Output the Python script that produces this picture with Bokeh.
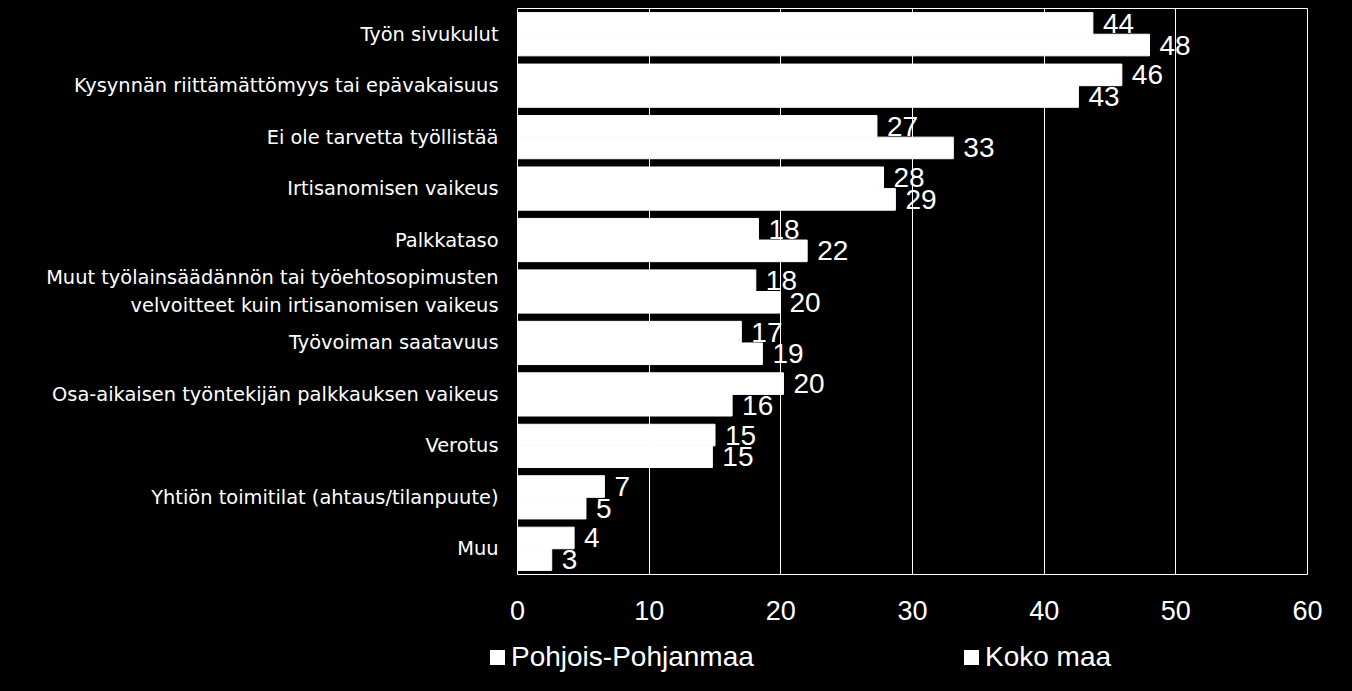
from bokeh.plotting import figure
from bokeh.layouts import column
from bokeh.models import ColumnDataSource, FactorRange, Range1d, FixedTicker, Div
from bokeh.transform import dodge
from bokeh.core.properties import value
from bokeh.embed import file_html
from bokeh.resources import INLINE

categories = [
    "Työn sivukulut",
    "Kysynnän riittämättömyys tai epävakaisuus",
    "Ei ole tarvetta työllistää",
    "Irtisanomisen vaikeus",
    "Palkkataso",
    "Muut työlainsäädännön tai työehtosopimusten\nvelvoitteet kuin irtisanomisen vaikeus",
    "Työvoiman saatavuus",
    "Osa-aikaisen työntekijän palkkauksen vaikeus",
    "Verotus",
    "Yhtiön toimitilat (ahtaus/tilanpuute)",
    "Muu",
]
pohjois = [43.7, 45.9, 27.3, 27.8, 18.3, 18.1, 17.0, 20.2, 15.0, 6.6, 4.3]
koko = [48.0, 42.6, 33.1, 28.7, 22.0, 19.9, 18.6, 16.3, 14.8, 5.2, 2.6]
series_names = ["Pohjois-Pohjanmaa", "Koko maa"]
series_colors = ["white", "white"]
x_ticks = [0, 10, 20, 30, 40, 50, 60]

src = ColumnDataSource(dict(
    cat=categories,
    p=pohjois,
    k=koko,
    pl=[str(int(round(v))) for v in pohjois],
    kl=[str(int(round(v))) for v in koko],
))

p = figure(
    y_range=FactorRange(*categories[::-1]),
    x_range=Range1d(0, 60),
    width=1352, frame_width=790, frame_height=566,
    min_border_left=517, min_border_top=8, min_border_right=45, min_border_bottom=60,
    output_backend="svg", toolbar_location=None,
    background_fill_color="black", border_fill_color="black",
    outline_line_color="white", outline_line_width=1,
)

off = 0.21
bh = 0.42
p.hbar(y=dodge("cat", off, range=p.y_range), right="p", left=0, height=bh,
       source=src, fill_color=series_colors[0], line_color=series_colors[0], line_width=1)
p.hbar(y=dodge("cat", -off, range=p.y_range), right="k", left=0, height=bh,
       source=src, fill_color=series_colors[1], line_color=series_colors[1], line_width=1)

lab_font = value("Liberation Sans")
p.text(x="p", y=dodge("cat", off, range=p.y_range), text="pl", source=src,
       x_offset=10, text_baseline="middle", text_align="left",
       text_color="white", text_font=lab_font, text_font_size="28px")
p.text(x="k", y=dodge("cat", -off, range=p.y_range), text="kl", source=src,
       x_offset=10, text_baseline="middle", text_align="left",
       text_color="white", text_font=lab_font, text_font_size="28px")

p.xgrid.grid_line_color = "white"
p.xgrid.grid_line_width = 1
p.xgrid.ticker = FixedTicker(ticks=x_ticks)
p.ygrid.grid_line_color = None

p.xaxis.ticker = FixedTicker(ticks=x_ticks)
p.xaxis.axis_line_color = None
p.xaxis.major_tick_line_color = None
p.xaxis.minor_tick_line_color = None
p.xaxis.major_label_text_color = "white"
p.xaxis.major_label_text_font = "Liberation Sans"
p.xaxis.major_label_text_font_size = "27px"
p.xaxis.major_label_standoff = 20

p.yaxis.axis_line_color = None
p.yaxis.major_tick_line_color = None
p.yaxis.minor_tick_line_color = None
p.yaxis.major_label_text_color = "white"
p.yaxis.major_label_text_font = "DejaVu Sans"
p.yaxis.major_label_text_font_size = "19.4px"
p.yaxis.major_label_standoff = 13

# legend strip below the chart
leg_x = [490, 964]
parts = []
for name, col, x in zip(series_names, series_colors, leg_x):
    parts.append(
        f'<span style="position:absolute;left:{x}px;top:16px;width:15px;height:15px;'
        f'background:{col};"></span>'
        f'<span style="position:absolute;left:{x + 21}px;top:7px;line-height:32px;'
        f'white-space:nowrap;">{name}</span>'
    )
legend_html = (
    '<div style="position:relative;width:1352px;height:57px;background:black;'
    "color:white;font-family:'Liberation Sans';font-size:28px;\">"
    + "".join(parts) + "</div>"
)
leg = Div(text=legend_html, width=1352, height=57,
          styles={"background-color": "black", "margin": "0", "padding": "0"})

layout = column(p, leg, spacing=0, styles={"background-color": "black"})
html = file_html(layout, INLINE)
open("out.html", "w").write(html)
